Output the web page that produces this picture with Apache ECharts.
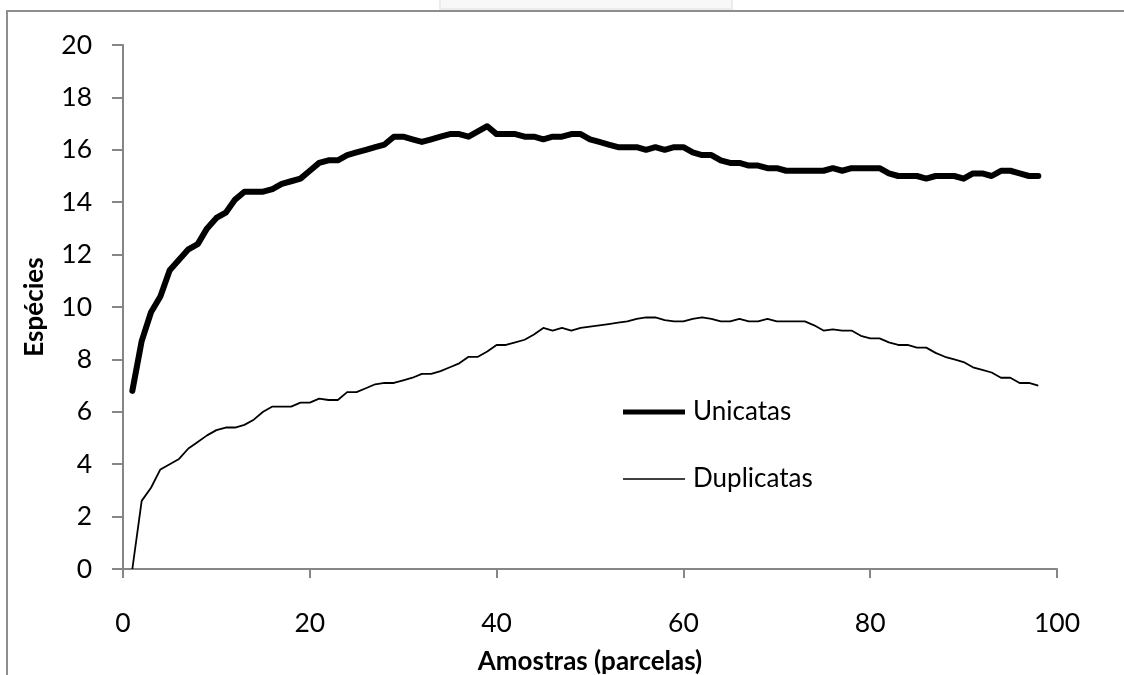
<!DOCTYPE html>
<html>
<head>
<meta charset="utf-8">
<script src="https://cdn.jsdelivr.net/npm/echarts@6/dist/echarts.min.js"></script>
<style>
html,body{margin:0;padding:0;background:#fff;}
#chart{width:1124px;height:675px;}
</style>
</head>
<body>
<div id="chart"></div>
<script>
const seriesNames = ['Unicatas', 'Duplicatas'];
const xTitle = 'Amostras (parcelas)';
const yTitle = 'Espécies';
const samples = [1,2,3,4,5,6,7,8,9,10,11,12,13,14,15,16,17,18,19,20,
  21,22,23,24,25,26,27,28,29,30,31,32,33,34,35,36,37,38,39,40,
  41,42,43,44,45,46,47,48,49,50,51,52,53,54,55,56,57,58,59,60,
  61,62,63,64,65,66,67,68,69,70,71,72,73,74,75,76,77,78,79,80,
  81,82,83,84,85,86,87,88,89,90,91,92,93,94,95,96,97,98];
const unicatas = [6.8,8.7,9.8,10.4,11.4,11.8,12.2,12.4,13.0,13.4,
  13.6,14.1,14.4,14.4,14.4,14.5,14.7,14.8,14.9,15.2,
  15.5,15.6,15.6,15.8,15.9,16.0,16.1,16.2,16.5,16.5,
  16.4,16.3,16.4,16.5,16.6,16.6,16.5,16.7,16.9,16.6,
  16.6,16.6,16.5,16.5,16.4,16.5,16.5,16.6,16.6,16.4,
  16.3,16.2,16.1,16.1,16.1,16.0,16.1,16.0,16.1,16.1,
  15.9,15.8,15.8,15.6,15.5,15.5,15.4,15.4,15.3,15.3,
  15.2,15.2,15.2,15.2,15.2,15.3,15.2,15.3,15.3,15.3,
  15.3,15.1,15.0,15.0,15.0,14.9,15.0,15.0,15.0,14.9,
  15.1,15.1,15.0,15.2,15.2,15.1,15.0,15.0];
const duplicatas = [0,2.6,3.1,3.8,4.0,4.2,4.6,4.85,5.1,5.3,
  5.4,5.4,5.5,5.7,6.0,6.2,6.2,6.2,6.35,6.35,
  6.5,6.45,6.45,6.75,6.75,6.9,7.05,7.1,7.1,7.2,
  7.3,7.45,7.45,7.55,7.7,7.85,8.1,8.1,8.3,8.55,
  8.55,8.65,8.75,8.95,9.2,9.1,9.2,9.1,9.2,9.25,
  9.3,9.35,9.4,9.45,9.55,9.6,9.6,9.5,9.45,9.45,
  9.55,9.6,9.55,9.45,9.45,9.55,9.45,9.45,9.55,9.45,
  9.45,9.45,9.45,9.3,9.1,9.15,9.1,9.1,8.9,8.8,
  8.8,8.65,8.55,8.55,8.45,8.45,8.25,8.1,8.0,7.9,
  7.7,7.6,7.5,7.3,7.3,7.1,7.1,7.0];

const FONT = 'Lato, "Open Sans", sans-serif';
const AXIS_GRAY = '#868686';

const chart = echarts.init(document.getElementById('chart'), null, {renderer: 'canvas'});
const pairs = (ys) => samples.map((x, i) => [x, ys[i]]);

chart.setOption({
  animation: false,
  backgroundColor: '#ffffff',
  textStyle: {fontFamily: FONT},
  graphic: [
    {type: 'rect', shape: {x: 440, y: -2, width: 292, height: 11},
     style: {fill: '#f8f8f8', stroke: '#ececec', lineWidth: 2}, silent: true},
    {type: 'polyline', shape: {points: [[7, 676], [7, 11], [1126, 11]]},
     style: {stroke: '#8e8e8e', lineWidth: 2, fill: null}, silent: true}
  ],
  grid: {left: 123, right: 67, top: 45, bottom: 106, containLabel: false, outerBoundsMode: 'none'},
  legend: [
    {data: [seriesNames[0]], left: 618, top: 394, orient: 'vertical',
     icon: 'rect', itemWidth: 62, itemHeight: 5, itemGap: 0,
     textStyle: {fontFamily: FONT, fontSize: 26, color: '#000', padding: [0,0,0,3]}},
    {data: [seriesNames[1]], left: 618, top: 461, orient: 'vertical',
     icon: 'rect', itemWidth: 62, itemHeight: 1.6, itemGap: 0,
     textStyle: {fontFamily: FONT, fontSize: 26, color: '#000', padding: [0,0,0,3]}}
  ],
  xAxis: {
    type: 'value', min: 0, max: 100, interval: 20,
    name: xTitle, nameLocation: 'middle', nameGap: 80,
    nameTextStyle: {fontFamily: FONT, fontSize: 26, fontWeight: 'bold', color: '#000'},
    axisLine: {show: true, lineStyle: {color: AXIS_GRAY, width: 2}},
    axisTick: {show: true, inside: false, length: 9, lineStyle: {color: AXIS_GRAY, width: 2}},
    axisLabel: {fontFamily: FONT, fontSize: 26.5, color: '#000', margin: 41},
    splitLine: {show: false}
  },
  yAxis: {
    type: 'value', min: 0, max: 20, interval: 2,
    name: yTitle, nameLocation: 'middle', nameGap: 75, nameRotate: 90,
    nameTextStyle: {fontFamily: FONT, fontSize: 26, fontWeight: 'bold', color: '#000'},
    axisLine: {show: true, lineStyle: {color: AXIS_GRAY, width: 2}},
    axisTick: {show: true, inside: false, length: 11, lineStyle: {color: AXIS_GRAY, width: 2}},
    axisLabel: {fontFamily: FONT, fontSize: 26.5, color: '#000', margin: 31},
    splitLine: {show: false}
  },
  series: [
    {name: seriesNames[0], type: 'line', data: pairs(unicatas), showSymbol: false, symbol: 'none',
     itemStyle: {color: '#000'},
     lineStyle: {color: '#000', width: 6, cap: 'round', join: 'round'}},
    {name: seriesNames[1], type: 'line', data: pairs(duplicatas), showSymbol: false, symbol: 'none',
     itemStyle: {color: '#000'},
     lineStyle: {color: '#000', width: 1.8, join: 'round'}}
  ]
});
</script>
</body>
</html>
